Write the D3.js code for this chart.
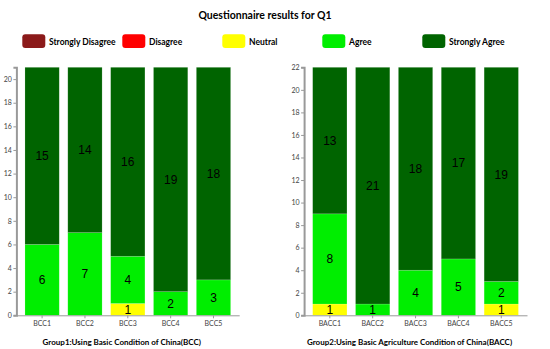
<!DOCTYPE html>
<html>
<head>
<meta charset="utf-8">
<title>Questionnaire results for Q1</title>
<script src="https://d3js.org/d3.v7.min.js"></script>
<style>
body{margin:0;background:#fff;}
.chart text{font-family:Lato,"Noto Sans",sans-serif;}
.axis path,.axis line{stroke:#999;}
.axis text{fill:#444;font-size:7px;}
</style>
</head>
<body>
<svg class="chart" width="550" height="349"></svg>
<script>
// answer levels and colours
var levels=["Strongly Disagree","Disagree","Neutral","Agree","Strongly Agree"];
var colors=["#8b1a1a","#ff0000","#ffff00","#00ee00","#006400"];

// group 1
var cats1=["BCC1","BCC2","BCC3","BCC4","BCC5"];
var sd1=[0,0,0,0,0];
var dis1=[0,0,0,0,0];
var neu1=[0,0,1,0,0];
var agr1=[6,7,4,2,3];
var sag1=[15,14,16,19,18];

// group 2
var cats2=["BACC1","BACC2","BACC3","BACC4","BACC5"];
var sd2=[0,0,0,0,0];
var dis2=[0,0,0,0,0];
var neu2=[1,0,0,0,1];
var agr2=[8,1,4,5,2];
var sag2=[13,21,18,17,19];

var ticks1=[0,2,4,6,8,10,12,14,16,18,20];
var ticks2=[0,2,4,6,8,10,12,14,16,18,20,22];

var svg=d3.select(".chart");

svg.append("text")
	.attr("x",265).attr("y",18.8)
	.attr("text-anchor","middle")
	.attr("font-size","10.5px")
	.attr("font-weight","bold")
	.text("Questionnaire results for Q1");

// legend
var legend=svg.append("g").selectAll("g").data(levels).enter().append("g")
	.attr("transform",function(d,i){return "translate("+(22.3+i*100)+",34.3)";});
legend.append("rect")
	.attr("width",23).attr("height",13.7).attr("rx",3)
	.attr("fill",function(d,i){return colors[i];});
legend.append("text")
	.attr("x",26.7).attr("y",10.7)
	.attr("font-size","8.5px").attr("font-weight","bold")
	.text(function(d){return d;});

function table(cats,cols){
	return cats.map(function(c,i){
		var row={cat:c};
		levels.forEach(function(l,j){row[l]=cols[j][i];});
		return row;
	});
}

function drawPanel(x0,x1,cats,cols,ymax,ticks,title){
	var rows=table(cats,cols);
	var x=d3.scaleBand().domain(cats).range([x0,x1]).padding(0.2);
	var y=d3.scaleLinear().domain([0,ymax]).range([315.3,67.3]);
	var series=d3.stack().keys(levels)(rows);
	var g=svg.append("g");

	var layers=g.selectAll("g.layer").data(series).enter().append("g")
		.attr("class","layer")
		.attr("fill",function(d,i){return colors[i];});
	layers.selectAll("rect").data(function(d){return d;}).enter().append("rect")
		.attr("x",function(d){return x(d.data.cat);})
		.attr("width",x.bandwidth())
		.attr("y",function(d){return y(d[1]);})
		.attr("height",function(d){return y(d[0])-y(d[1]);})
		.attr("stroke","#ffffff").attr("stroke-opacity",0.25).attr("stroke-width",0.6);
	layers.selectAll("text").data(function(d){return d.filter(function(e){return e[1]-e[0]>0;});}).enter().append("text")
		.attr("x",function(d){return x(d.data.cat)+x.bandwidth()/2;})
		.attr("y",function(d){return y((d[0]+d[1])/2);})
		.attr("dy","0.35em")
		.attr("text-anchor","middle")
		.attr("font-size","12px")
		.attr("fill","#000")
		.style("font-family","Liberation Sans, Arial, sans-serif")
		.text(function(d){return d[1]-d[0];});

	var ya=g.append("g").attr("class","axis")
		.attr("transform","translate("+x0+",0)")
		.call(d3.axisLeft(y).tickValues(ticks).tickSize(3).tickSizeOuter(3));
	ya.select("path").attr("stroke-width",2).attr("stroke","#aaa");
	ya.selectAll("line").attr("stroke","#555");
	ya.selectAll("text").attr("x",-4.5);

	var xa=g.append("g").attr("class","axis")
		.attr("transform","translate(0,315.3)")
		.call(d3.axisBottom(x).tickSize(3).tickSizeOuter(0));
	xa.select("path").attr("stroke","#666");
	xa.selectAll("line").attr("stroke","#666");
	xa.selectAll("text").attr("y",6);

	g.append("text")
		.attr("x",(x0+x1)/2-6).attr("y",344.8)
		.attr("text-anchor","middle")
		.attr("font-size","8px").attr("font-weight","bold")
		.text(title);
}

drawPanel(16.4,239.2,cats1,[sd1,dis1,neu1,agr1,sag1],21,ticks1,"Group1:Using Basic Condition of China(BCC)");
drawPanel(304.1,527,cats2,[sd2,dis2,neu2,agr2,sag2],22,ticks2,"Group2:Using Basic Agriculture Condition of China(BACC)");
</script>
</body>
</html>
